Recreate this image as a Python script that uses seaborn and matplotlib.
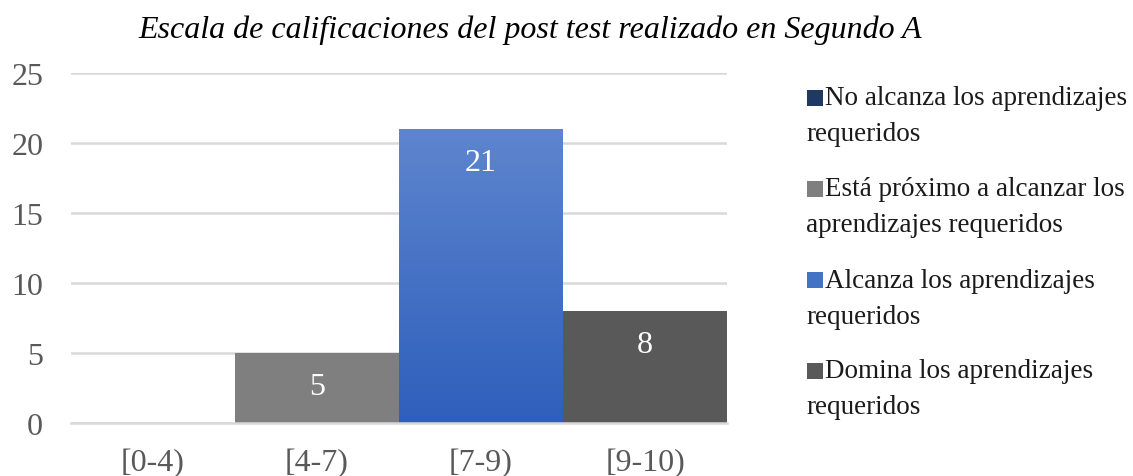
import numpy as np
import pandas as pd
import matplotlib
matplotlib.use("Agg")
import matplotlib.pyplot as plt
import seaborn as sns
from matplotlib.patches import Rectangle
from matplotlib.colors import LinearSegmentedColormap

categories = ["[0-4)", "[4-7)", "[7-9)", "[9-10)"]
values = [0, 5, 21, 8]
series_labels = [
    "No alcanza los aprendizajes requeridos",
    "Está próximo a alcanzar los aprendizajes requeridos",
    "Alcanza los aprendizajes requeridos",
    "Domina los aprendizajes requeridos",
]
legend_lines = [
    ("No alcanza los aprendizajes", "requeridos"),
    ("Está próximo a alcanzar los", "aprendizajes requeridos"),
    ("Alcanza los aprendizajes", "requeridos"),
    ("Domina los aprendizajes", "requeridos"),
]
colors = ["#203864", "#7F7F7F", "#4472C4", "#595959"]
yticks = [0, 5, 10, 15, 20, 25]
title = "Escala de calificaciones del post test realizado en Segundo A"

W, H = 1133, 477
sns.set_theme(style="white")
plt.rcParams['font.family'] = ['Liberation Serif', 'DejaVu Serif']

fig = plt.figure(figsize=(W / 100, H / 100), dpi=100)
ax = fig.add_axes([71 / W, 1 - 424 / H, (727 - 71) / W, (424 - 74) / H])

df = pd.DataFrame({"cat": categories, "val": values, "serie": series_labels})
sns.barplot(data=df, x="cat", y="val", hue="serie", hue_order=series_labels,
            palette=colors, dodge=False, width=1.0, saturation=1,
            legend=False, ax=ax, linewidth=0)

# gradient on the blue bar
blue_cmap = LinearSegmentedColormap.from_list("g", ["#2E5FBC", "#5E85CE"])
for p in list(ax.patches):
    idx = int(round(p.get_x() + p.get_width() / 2))
    h = p.get_height()
    if h > 0 and categories[idx] == "[7-9)":
        grad = np.linspace(0, 1, 256).reshape(-1, 1)
        im = ax.imshow(grad, extent=[p.get_x(), p.get_x() + p.get_width(), 0, h],
                       origin="lower", aspect="auto", cmap=blue_cmap,
                       zorder=p.get_zorder() + 0.1)
        im.set_clip_path(p)
    if h > 0:
        ax.annotate(f"{int(h)}", xy=(p.get_x() + p.get_width() / 2, h),
                    xytext=(0, -24), textcoords="offset points",
                    ha="center", va="center", color="white", fontsize=23)

ax.set_xlim(-0.5, len(categories) - 0.5)
ax.set_ylim(0, 25)
ax.set_yticks(yticks)
ax.set_xlabel("")
ax.set_ylabel("")
ax.yaxis.grid(True, color="#D9D9D9", lw=1.8)
ax.set_axisbelow(True)
for s in ["top", "right", "left"]:
    ax.spines[s].set_visible(False)
ax.spines["bottom"].set_color("#D9D9D9")
ax.spines["bottom"].set_linewidth(1.8)
ax.tick_params(axis="both", length=0, labelsize=23, labelcolor="#595959")
ax.tick_params(axis="y", pad=20)
ax.tick_params(axis="x", pad=18)

fig.text(530 / W, 1 - 30 / H, title, ha="center", va="center",
         style="italic", fontsize=23, color="black")

# legend (Excel-style wrapped entries)
y0 = 99
step = 91
sq = 16
for i, (l1, l2) in enumerate(legend_lines):
    yc = y0 + i * step
    fig.patches.append(Rectangle((807 / W, 1 - (yc + sq / 2) / H), sq / W, sq / H,
                                 transform=fig.transFigure, facecolor=colors[i],
                                 edgecolor="none"))
    fig.text(825 / W, 1 - yc / H, l1, ha="left", va="center", fontsize=19.5, color="#1a1a1a")
    fig.text(806 / W, 1 - (yc + 36) / H, l2, ha="left", va="center", fontsize=19.5, color="#1a1a1a")

fig.savefig("out.png", dpi=100)
